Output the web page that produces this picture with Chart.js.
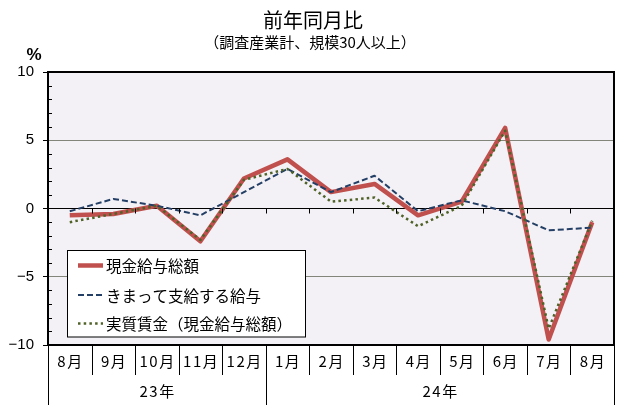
<!DOCTYPE html>
<html>
<head>
<meta charset="utf-8">
<script src="https://cdn.jsdelivr.net/npm/chart.js@4/dist/chart.umd.min.js"></script>
<style>
  html,body{margin:0;padding:0;background:#fff}
  #wrap{width:630px;height:410px;position:relative}
</style>
</head>
<body>
<div id="wrap"><canvas id="c" width="630" height="410"></canvas></div>
<script>
// データ（前年同月比、%）
const months = ['8月','9月','10月','11月','12月','1月','2月','3月','4月','5月','6月','7月','8月'];
const yearLabels = ['23年','24年'];
const yearSpans = [5, 8];
const genkin = [-0.5,-0.4,0.2,-2.4,2.2,3.6,1.2,1.8,-0.5,0.5,5.9,-9.6,-1.0];   // 現金給与総額
const kimatte = [-0.2,0.7,0.2,-0.5,1.2,2.9,1.2,2.4,-0.2,0.6,-0.2,-1.6,-1.4]; // きまって支給する給与
const jisshitsu = [-1.0,-0.4,0.2,-2.3,2.1,2.9,0.5,0.8,-1.3,0.2,5.7,-8.8,-0.9]; // 実質賃金
const seriesNames = ['現金給与総額','きまって支給する給与','実質賃金（現金給与総額）'];
const yTicks = [-10,-5,0,5,10];

const JP = '"Noto Sans CJK JP", sans-serif';
const RED = '#C0504D', BLUE = '#243F66', GREEN = '#4F6228';

const styles = [
  { color: RED, width: 4.5, dash: [] },
  { color: BLUE, width: 2, dash: [6,3] },
  { color: GREEN, width: 2.5, dash: [2.5,3.2] }
];

const decor = {
  id: 'decor',
  beforeDraw(chart){
    const {ctx, chartArea:a} = chart;
    ctx.save();
    ctx.fillStyle = '#F3F1F5';
    ctx.fillRect(a.left, a.top, a.right-a.left, a.bottom-a.top);
    ctx.restore();
  },
  afterDatasetsDraw(chart){
    const {ctx, chartArea:a} = chart;
    const y = chart.scales.y;
    const w = (a.right - a.left) / months.length;
    const y0 = y.getPixelForValue(0);
    ctx.save();
    ctx.strokeStyle = '#000'; ctx.lineWidth = 1;
    // 0線の区切り目盛
    for (let k=1;k<months.length;k++){
      const px = Math.round(a.left + k*w) + 0.5;
      ctx.beginPath(); ctx.moveTo(px, y0); ctx.lineTo(px, y0+5); ctx.stroke();
    }
    // 補助目盛
    for (let v=-9; v<=9; v++){
      if (v % 5 === 0) continue;
      const py = Math.round(y.getPixelForValue(v)) + 0.5;
      ctx.beginPath(); ctx.moveTo(a.left, py); ctx.lineTo(a.left+4, py); ctx.stroke();
    }
    // 凡例
    const lx = 67.5, ly = 250.5, lw = 238, lh = 86.5;
    ctx.fillStyle = '#fff';
    ctx.fillRect(lx, ly, lw, lh);
    ctx.strokeRect(lx, ly, lw, lh);
    const rows = [265.5, 295, 323.5];
    ctx.font = '15.5px ' + JP;
    ctx.textBaseline = 'middle';
    seriesNames.forEach((name, i) => {
      const s = styles[i];
      ctx.save();
      ctx.strokeStyle = s.color; ctx.lineWidth = s.width; ctx.setLineDash(s.dash);
      ctx.beginPath(); ctx.moveTo(78, rows[i]); ctx.lineTo(103, rows[i]); ctx.stroke();
      ctx.restore();
      ctx.fillStyle = '#000';
      ctx.fillText(name, 106, rows[i] + 1);
    });
    ctx.restore();
  },
  afterDraw(chart){
    const {ctx, chartArea:a} = chart;
    const w = (a.right - a.left) / months.length;
    ctx.save();
    // 枠
    ctx.strokeStyle = '#000'; ctx.lineWidth = 2;
    ctx.strokeRect(a.left, a.top, a.right-a.left, a.bottom-a.top);
    // タイトル
    ctx.fillStyle = '#000';
    ctx.textAlign = 'center'; ctx.textBaseline = 'middle';
    ctx.font = '20px ' + JP;
    ctx.fillText('前年同月比', 313, 20);
    ctx.font = '15px ' + JP;
    ctx.fillText('（調査産業計、規模30人以上）', 310, 42);
    ctx.font = 'bold 17px "Liberation Sans", sans-serif';
    ctx.fillText('%', 34, 55);
    // 下の表
    ctx.lineWidth = 1;
    let k = 0;
    const bounds = [0];
    yearSpans.forEach(n => { k += n; bounds.push(k); });
    for (let i=0;i<=months.length;i++){
      const px = Math.round(a.left + i*w) + 0.5;
      const full = bounds.includes(i);
      ctx.beginPath(); ctx.moveTo(px, a.bottom); ctx.lineTo(px, full ? a.bottom+60 : a.bottom+30); ctx.stroke();
    }
    ctx.font = '15px ' + JP;
    ctx.letterSpacing = '1.5px';
    months.forEach((m, i) => {
      ctx.fillText(m, a.left + (i+0.5)*w + 0.75, a.bottom + 16);
    });
    yearLabels.forEach((yl, i) => {
      const cx = a.left + (bounds[i] + bounds[i+1]) / 2 * w;
      ctx.fillText(yl, cx + 0.75, a.bottom + 46);
    });
    ctx.restore();
  }
};

const datasets = [genkin, kimatte, jisshitsu].map((data, i) => ({
  label: seriesNames[i],
  data,
  borderColor: styles[i].color,
  borderWidth: styles[i].width,
  borderDash: styles[i].dash,
  borderJoinStyle: 'round',
  tension: 0,
  pointRadius: 0,
  fill: false,
  order: 3 - i
}));

new Chart(document.getElementById('c'), {
  type: 'line',
  data: { labels: months, datasets },
  options: {
    responsive: false,
    devicePixelRatio: 1,
    animation: false,
    layout: { padding: { left: 0, right: 16, top: 72, bottom: 65 } },
    plugins: { legend: { display: false }, tooltip: { enabled: false } },
    scales: {
      x: { type: 'category', offset: true, display: false },
      y: {
        min: -10, max: 10,
        afterBuildTicks: s => { s.ticks = yTicks.map(v => ({ value: v })); },
        afterFit: s => { s.width = 48; },
        border: { display: false },
        grid: {
          color: c => c.tick.value === 0 ? '#000' : (Math.abs(c.tick.value) === 5 ? '#82857A' : 'rgba(0,0,0,0)'),
          lineWidth: 1,
          tickLength: 5,
          tickColor: '#000',
          drawTicks: true
        },
        ticks: {
          padding: 9,
          color: '#000',
          font: { family: '"Liberation Sans", sans-serif', size: 15 },
          callback: v => String(v).replace('-', '−')
        }
      }
    }
  },
  plugins: [decor]
});
</script>
</body>
</html>
